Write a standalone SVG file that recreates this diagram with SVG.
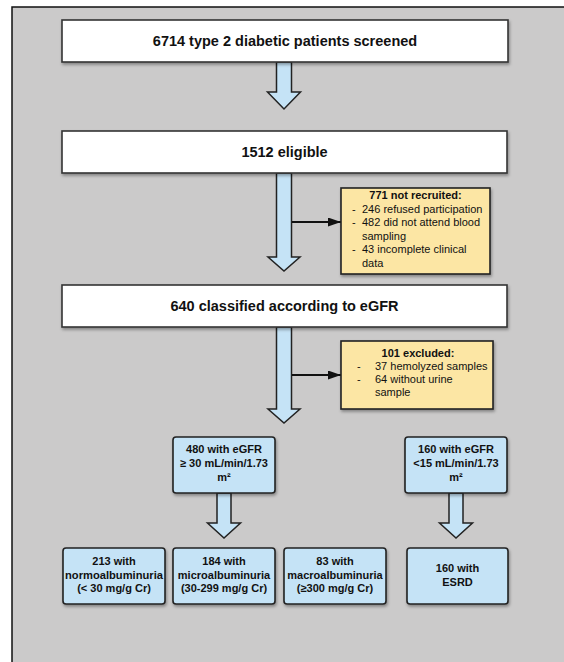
<svg xmlns="http://www.w3.org/2000/svg" width="564" height="662" viewBox="0 0 564 662">
<defs>
<filter id="sh" x="-10%" y="-10%" width="125%" height="135%">
<feDropShadow dx="1" dy="2" stdDeviation="1.5" flood-color="#000" flood-opacity="0.35"/>
</filter>
<marker id="ah" markerWidth="13" markerHeight="9" refX="13" refY="4.5" orient="auto" markerUnits="userSpaceOnUse">
<path d="M0,0 L13,4.5 L0,9 Z" fill="#111"/>
</marker>
<style>
text{font-family:"Liberation Sans",Arial,sans-serif;fill:#111;}
.big{font-size:14.5px;font-weight:bold;text-anchor:middle;}
.sm{font-size:11px;font-weight:bold;text-anchor:middle;}
.yl{font-size:11px;}
.ylb{font-size:11px;font-weight:bold;text-anchor:middle;}
.wbox{fill:#fff;stroke:#333;stroke-width:1.6;}
.bbox{fill:#C5E3F6;stroke:#222;stroke-width:1.6;}
.ybox{fill:#FCE6A4;stroke:#222;stroke-width:1.6;}
.barrow{fill:#C5E3F6;stroke:#222;stroke-width:1.5;stroke-linejoin:miter;}
.line{stroke:#111;stroke-width:2;fill:none;}
</style>
</defs>
<rect x="12" y="7" width="570" height="680" fill="#CBCACA" stroke="#111" stroke-width="1.5"/>

<g id="connectors">
<path class="barrow" d="M276.5,62 L291.5,62 L291.5,92 L300.5,92 L284,109 L267.5,92 L276.5,92 Z"/>
<path class="barrow" d="M276.5,173 L291.5,173 L291.5,257 L300,257 L284,271 L268,257 L276.5,257 Z"/>
<path class="barrow" d="M276.5,327 L291.5,327 L291.5,409 L300,409 L284,423 L268,409 L276.5,409 Z"/>
<path class="barrow" d="M217,493 L231,493 L231,523 L240.5,523 L224,538 L207.5,523 L217,523 Z"/>
<path class="barrow" d="M449,493 L463,493 L463,523 L472.5,523 L456,538 L439.5,523 L449,523 Z"/>
<line class="line" x1="292" y1="222" x2="341" y2="222" marker-end="url(#ah)"/>
<line class="line" x1="292" y1="375" x2="341" y2="375" marker-end="url(#ah)"/>
</g>

<g id="screened">
<rect class="wbox" x="62" y="20" width="446" height="42" filter="url(#sh)"/>
<text class="big" x="285" y="46">6714 type 2 diabetic patients screened</text>
</g>

<g id="eligible">
<rect class="wbox" x="62" y="131" width="445" height="42" filter="url(#sh)"/>
<text class="big" x="284.5" y="157">1512 eligible</text>
</g>

<g id="not-recruited">
<rect class="ybox" x="341" y="188" width="149" height="86" filter="url(#sh)"/>
<text class="ylb" x="415.5" y="199">771 not recruited:</text>
<text class="yl" x="352" y="212.5">-</text><text class="yl" x="362" y="212.5">246 refused participation</text>
<text class="yl" x="352" y="226">-</text><text class="yl" x="362" y="226">482 did not attend blood</text>
<text class="yl" x="362" y="239.5">sampling</text>
<text class="yl" x="352" y="253">-</text><text class="yl" x="362" y="253">43 incomplete clinical</text>
<text class="yl" x="362" y="266.5">data</text>
</g>

<g id="classified">
<rect class="wbox" x="62" y="285" width="445" height="42" filter="url(#sh)"/>
<text class="big" x="284.5" y="311">640 classified according to eGFR</text>
</g>

<g id="excluded">
<rect class="ybox" x="341" y="341" width="152" height="68" filter="url(#sh)"/>
<text class="ylb" x="418" y="357">101 excluded:</text>
<text class="yl" x="357" y="370">-</text><text class="yl" x="375" y="370">37 hemolyzed samples</text>
<text class="yl" x="357" y="383">-</text><text class="yl" x="375" y="383">64 without urine</text>
<text class="yl" x="375" y="396">sample</text>
</g>

<g id="egfr30">
<rect class="bbox" x="173" y="437" width="102" height="56" rx="3" filter="url(#sh)"/>
<text class="sm" x="224" y="453">480 with eGFR</text>
<text class="sm" x="224" y="467">≥ 30 mL/min/1.73</text>
<text class="sm" x="224" y="480.5">m²</text>
</g>

<g id="egfr15">
<rect class="bbox" x="405" y="437" width="102" height="56" rx="3" filter="url(#sh)"/>
<text class="sm" x="456" y="453">160 with eGFR</text>
<text class="sm" x="456" y="467">&lt;15 mL/min/1.73</text>
<text class="sm" x="456" y="480.5">m²</text>
</g>

<g id="normo">
<rect class="bbox" x="63" y="548" width="102" height="56" rx="3" filter="url(#sh)"/>
<text class="sm" x="114" y="565">213 with</text>
<text class="sm" x="114" y="578.5" textLength="98" lengthAdjust="spacingAndGlyphs">normoalbuminuria</text>
<text class="sm" x="114" y="592">(&lt; 30 mg/g Cr)</text>
</g>

<g id="micro">
<rect class="bbox" x="173" y="548" width="102" height="56" rx="3" filter="url(#sh)"/>
<text class="sm" x="224" y="565">184 with</text>
<text class="sm" x="224" y="578.5">microalbuminuria</text>
<text class="sm" x="224" y="592">(30-299 mg/g Cr)</text>
</g>

<g id="macro">
<rect class="bbox" x="284" y="548" width="102" height="56" rx="3" filter="url(#sh)"/>
<text class="sm" x="335" y="565">83 with</text>
<text class="sm" x="335" y="578.5">macroalbuminuria</text>
<text class="sm" x="335" y="592">(≥300 mg/g Cr)</text>
</g>

<g id="esrd">
<rect class="bbox" x="407" y="548" width="101" height="56" rx="3" filter="url(#sh)"/>
<text class="sm" x="457.5" y="572">160 with</text>
<text class="sm" x="457.5" y="585.5">ESRD</text>
</g>
</svg>
